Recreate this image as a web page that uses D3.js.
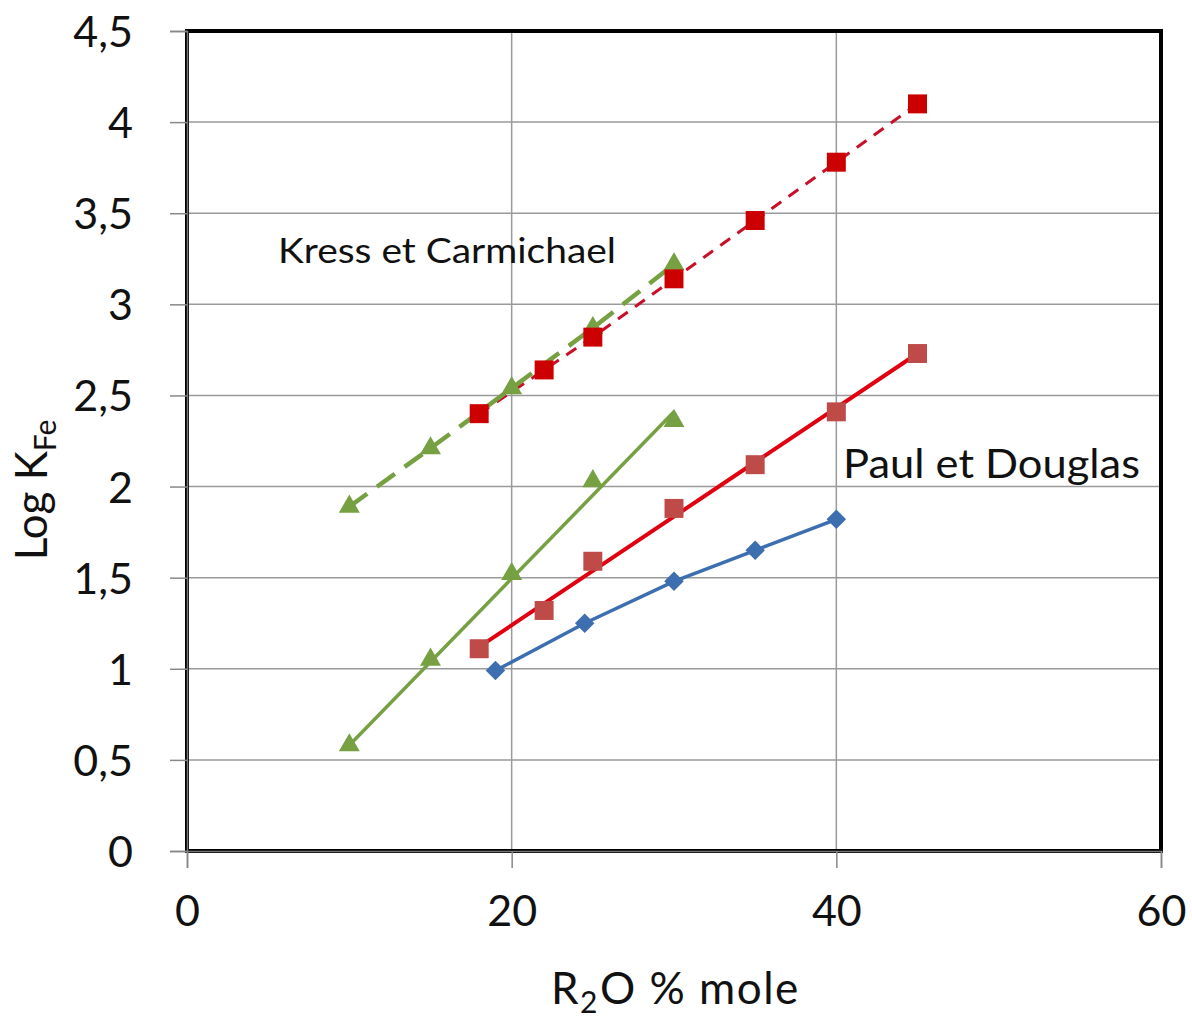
<!DOCTYPE html>
<html>
<head>
<meta charset="utf-8">
<script src="https://cdn.jsdelivr.net/npm/d3@7"></script>
<style>
  body { margin: 0; background: #fff; }
  svg { display: block; }
  text { font-family: Lato, "Open Sans", sans-serif; fill: #111; }
</style>
</head>
<body>
<svg id="chart" width="1192" height="1023"></svg>
<script>
// R2O content (% mole) and log K(Fe) for each data set
const blueX = [19, 24.5, 30, 35, 40];
const blueY = [0.99, 1.25, 1.48, 1.65, 1.82];

const pdSquareX = [18, 22, 25, 30, 35, 40, 45];
const pdSquareY = [1.11, 1.32, 1.59, 1.88, 2.12, 2.41, 2.73];
const pdFitX = [18, 45];
const pdFitY = [1.12, 2.73];

const greenSolidX = [10, 15, 20, 25, 30];
const greenSolidY = [0.58, 1.05, 1.52, 2.03, 2.36];
const greenFitX = [10, 30];
const greenFitY = [0.58, 2.41];

const greenDashX = [10, 15, 20, 25, 30];
const greenDashY = [1.89, 2.21, 2.54, 2.87, 3.22];

const kcSquareX = [18, 22, 25, 30, 35, 40, 45];
const kcSquareY = [2.40, 2.64, 2.82, 3.14, 3.46, 3.78, 4.10];

const xTicks = [0, 20, 40, 60];
const yTicks = [0, 0.5, 1, 1.5, 2, 2.5, 3, 3.5, 4, 4.5];
const yTickLabels = ["0", "0,5", "1", "1,5", "2", "2,5", "3", "3,5", "4", "4,5"];

const svg = d3.select("#chart");
const plotL = 187, plotR = 1161, plotT = 31, plotB = 851;

const x = d3.scaleLinear().domain([0, 60]).range([plotL, plotR]);
const y = d3.scaleLinear().domain([0, 4.5]).range([plotB, plotT]);

const zip = (xs, ys) => xs.map((v, i) => [v, ys[i]]);

// gridlines
svg.append("g").selectAll("line").data(yTicks.slice(1)).join("line")
  .attr("x1", plotL).attr("x2", plotR)
  .attr("y1", d => y(d)).attr("y2", d => y(d))
  .attr("stroke", "#9a9a9a").attr("stroke-width", 1.5);
svg.append("g").selectAll("line").data(xTicks.slice(1)).join("line")
  .attr("y1", plotT).attr("y2", plotB)
  .attr("x1", d => x(d)).attr("x2", d => x(d))
  .attr("stroke", "#9a9a9a").attr("stroke-width", 1.5);

// plot frame
svg.append("rect")
  .attr("x", plotL).attr("y", plotT)
  .attr("width", plotR - plotL).attr("height", plotB - plotT)
  .attr("fill", "none").attr("stroke", "#000").attr("stroke-width", 4);

// axes
const xAxis = d3.axisBottom(x).tickValues(xTicks).tickSize(17).tickFormat(d3.format("d"));
const gx = svg.append("g").attr("transform", `translate(0,${plotB})`).call(xAxis);
gx.select(".domain").attr("stroke", "#777").attr("stroke-width", 1.5);
gx.selectAll(".tick line").attr("stroke", "#888").attr("stroke-width", 1.5);
gx.selectAll(".tick text")
  .attr("y", 75).attr("dy", 0)
  .style("font-size", "43px").attr("fill", "#111");

const yAxis = d3.axisLeft(y).tickValues(yTicks).tickSize(17)
  .tickFormat((d, i) => yTickLabels[i]);
const gy = svg.append("g").attr("transform", `translate(${plotL},0)`).call(yAxis);
gy.select(".domain").attr("stroke", "#777").attr("stroke-width", 1.5);
gy.selectAll(".tick line").attr("stroke", "#888").attr("stroke-width", 1.5);
gy.selectAll(".tick text")
  .attr("x", -54).attr("dy", "0.36em")
  .style("font-size", "43px").attr("fill", "#111");

const line = d3.line().x(d => x(d[0])).y(d => y(d[1]));

// connecting and fitted lines
svg.append("path").datum(zip(kcSquareX, kcSquareY)).attr("d", line)
  .attr("fill", "none").attr("stroke", "#c8102a").attr("stroke-width", 3)
  .attr("stroke-dasharray", "12,9");
svg.append("path").datum(zip(greenDashX, greenDashY)).attr("d", line)
  .attr("fill", "none").attr("stroke", "#77a043").attr("stroke-width", 4.5)
  .attr("stroke-dasharray", "22,12");
svg.append("path").datum(zip(greenFitX, greenFitY)).attr("d", line)
  .attr("fill", "none").attr("stroke", "#77a043").attr("stroke-width", 3.5);
svg.append("path").datum(zip(pdFitX, pdFitY)).attr("d", line)
  .attr("fill", "none").attr("stroke", "#e00010").attr("stroke-width", 4);
svg.append("path").datum(zip(blueX, blueY)).attr("d", line)
  .attr("fill", "none").attr("stroke", "#3d6fb0").attr("stroke-width", 3.5);

// markers
const tri = d3.symbol().type(d3.symbolTriangle).size(190);
const sq = d3.symbol().type(d3.symbolSquare).size(360);
const dia = d3.symbol().type(d3.symbolSquare).size(190);

function markers(xs, ys, gen, color, angle = 0) {
  svg.append("g").selectAll("path").data(zip(xs, ys)).join("path")
    .attr("transform", d => `translate(${x(d[0])},${y(d[1])}) rotate(${angle})`)
    .attr("d", gen).attr("fill", color);
}
markers(greenDashX, greenDashY, tri, "#77a043");
markers(greenSolidX, greenSolidY, tri, "#77a043");
markers(kcSquareX, kcSquareY, sq, "#cc0000");
markers(pdSquareX, pdSquareY, sq, "#be4b48");
markers(blueX, blueY, dia, "#3d6fb0", 45);

// annotations
svg.append("text").attr("x", 278).attr("y", 263)
  .attr("textLength", 338).attr("lengthAdjust", "spacingAndGlyphs")
  .style("font-size", "34px").text("Kress et Carmichael");
svg.append("text").attr("x", 843).attr("y", 478)
  .attr("textLength", 297).attr("lengthAdjust", "spacingAndGlyphs")
  .style("font-size", "41px").text("Paul et Douglas");

// axis titles
const xt = svg.append("text").attr("x", 551).attr("y", 1004)
  .style("font-size", "44px").style("letter-spacing", "1.5px");
xt.append("tspan").text("R");
xt.append("tspan").text("2").style("font-size", "30px").attr("dy", 9);
xt.append("tspan").text("O % mole").attr("dy", -9).attr("dx", 1);

const yt = svg.append("text")
  .attr("transform", "translate(47,490) rotate(-90)")
  .attr("text-anchor", "middle").style("font-size", "44px");
yt.append("tspan").text("Log K");
yt.append("tspan").text("Fe").style("font-size", "30px").attr("dy", 9);
</script>
</body>
</html>
